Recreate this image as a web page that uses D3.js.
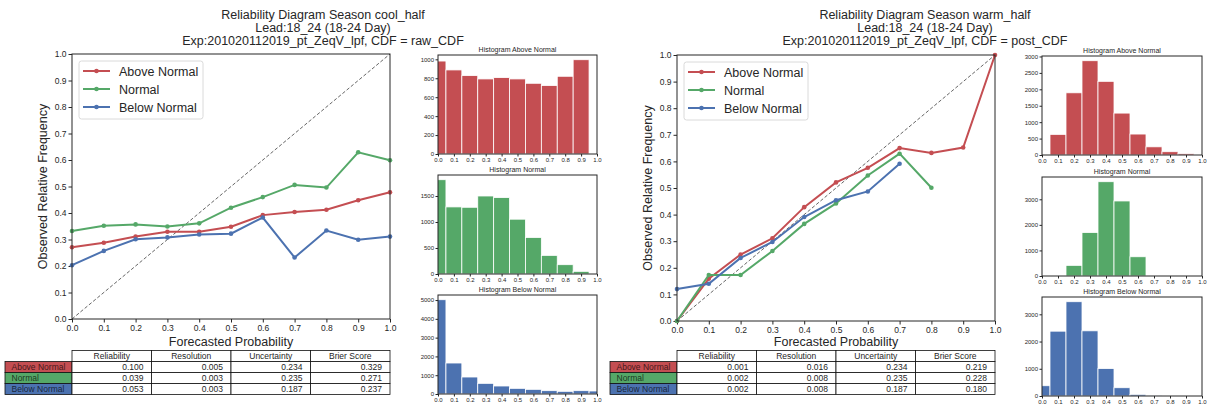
<!DOCTYPE html>
<html lang="en">
<head>
<meta charset="UTF-8">
<title>Reliability Diagrams</title>
<style>
  body { margin: 0; background: #fff; font-family: 'Liberation Sans', Arial, sans-serif; }
  svg text { fill: #262626; }
  .frame { fill: none; stroke: #262626; stroke-width: 1; }
</style>
</head>
<body>
<svg id="fig" width="1213" height="410"></svg>
<script src="https://d3js.org/d3.v7.min.js"></script>
<script>
// categories + colours (seaborn deep)
const categories = ['Above Normal', 'Normal', 'Below Normal'];
const catColors = ['#C44E52', '#55A868', '#4C72B0'];
const probBins = [0.0, 0.1, 0.2, 0.3, 0.4, 0.5, 0.6, 0.7, 0.8, 0.9, 1.0];

// cool_half reliability curves
const coolAbove  = [0.271, 0.288, 0.311, 0.329, 0.329, 0.348, 0.392, 0.404, 0.412, 0.448, 0.478];
const coolNormal = [0.332, 0.352, 0.357, 0.349, 0.361, 0.420, 0.460, 0.506, 0.496, 0.629, 0.599];
const coolBelow  = [0.203, 0.257, 0.301, 0.308, 0.319, 0.322, 0.383, 0.232, 0.334, 0.299, 0.311];

// warm_half reliability curves
const warmAbove  = [0.0, 0.159, 0.250, 0.311, 0.428, 0.521, 0.576, 0.650, 0.632, 0.652, 1.0];
const warmNormal = [0.0, 0.173, 0.173, 0.263, 0.365, 0.442, 0.547, 0.629, 0.501];
const warmBelow  = [0.120, 0.140, 0.237, 0.297, 0.391, 0.454, 0.487, 0.591];

// histogram counts per probability bin
const coolHistAbove  = [982, 888, 828, 793, 807, 793, 747, 723, 821, 996, 0];
const coolHistNormal = [1813, 1290, 1283, 1500, 1469, 1054, 702, 358, 179, 51, 0];
const coolHistBelow  = [5018, 1649, 904, 567, 426, 301, 248, 177, 142, 177, 160];
const warmHistAbove  = [0, 628, 1894, 2871, 2243, 1276, 638, 249, 100, 40, 0];
const warmHistNormal = [0, 0, 416, 1701, 3688, 2935, 753, 0, 0, 0, 0];
const warmHistBelow  = [377, 2381, 3463, 2394, 1008, 304, 61, 5, 0, 0, 0];

// score table
const scoreNames = ['Reliability', 'Resolution', 'Uncertainty', 'Brier Score'];
const coolScores = [[0.100, 0.005, 0.234, 0.329], [0.039, 0.003, 0.235, 0.271], [0.053, 0.003, 0.187, 0.237]];
const warmScores = [[0.001, 0.016, 0.234, 0.219], [0.002, 0.008, 0.235, 0.228], [0.002, 0.008, 0.187, 0.180]];

const panels = [
  {
    title: ['Reliability Diagram Season cool_half', 'Lead:18_24 (18-24 Day)', 'Exp:201020112019_pt_ZeqV_lpf, CDF = raw_CDF'],
    titleX: 323,
    main: { x0: 72, x1: 390, y0: 54, y1: 319 },
    hist: { x0: 438, x1: 597, tops: [55, 175, 295], h: 99 },
    tableX: 5,
    series: [coolAbove, coolNormal, coolBelow],
    hists: [coolHistAbove, coolHistNormal, coolHistBelow],
    hStep: [200, 500, 1000],
    scores: coolScores
  },
  {
    title: ['Reliability Diagram Season warm_half', 'Lead:18_24 (18-24 Day)', 'Exp:201020112019_pt_ZeqV_lpf, CDF = post_CDF'],
    titleX: 925,
    main: { x0: 677, x1: 995, y0: 55, y1: 321 },
    hist: { x0: 1042, x1: 1202, tops: [56, 177, 297], h: 99 },
    tableX: 610,
    series: [warmAbove, warmNormal, warmBelow],
    hists: [warmHistAbove, warmHistNormal, warmHistBelow],
    hStep: [500, 1000, 1000],
    scores: warmScores
  }
];

const svg = d3.select('#fig');

function styleAxis(sel, fs) {
  sel.select('.domain').remove();
  sel.selectAll('.tick line').attr('stroke', '#262626');
  sel.selectAll('.tick text').style('font-size', fs + 'px').attr('fill', '#262626');
}

function drawPanel(p, pi) {
  const g = svg.append('g');

  // titles
  p.title.forEach((t, i) => {
    g.append('text').attr('x', p.titleX).attr('y', 19 + i * 13)
      .attr('text-anchor', 'middle').style('font-size', '12.5px').text(t);
  });

  // main reliability axes
  const m = p.main;
  const x = d3.scaleLinear().domain([0, 1]).range([m.x0, m.x1]);
  const y = d3.scaleLinear().domain([0, 1]).range([m.y1, m.y0]);

  g.append('g').attr('transform', `translate(0,${m.y1})`)
    .call(d3.axisBottom(x).tickValues(probBins).tickFormat(d3.format('.1f')).tickSize(3.5).tickPadding(2))
    .call(s => styleAxis(s, 8.5));
  g.append('g').attr('transform', `translate(${m.x0},0)`)
    .call(d3.axisLeft(y).tickValues(probBins).tickFormat(d3.format('.1f')).tickSize(3.5).tickPadding(2))
    .call(s => styleAxis(s, 8.5));

  // perfect reliability diagonal
  g.append('line')
    .attr('x1', x(0)).attr('y1', y(0)).attr('x2', x(1)).attr('y2', y(1))
    .attr('stroke', '#555').attr('stroke-width', 0.9).attr('stroke-dasharray', '3.5,2');

  const line = d3.line().x((d, i) => x(probBins[i])).y(d => y(d));
  p.series.forEach((s, k) => {
    g.append('path').datum(s).attr('d', line)
      .attr('fill', 'none').attr('stroke', catColors[k]).attr('stroke-width', 2);
    g.selectAll(null).data(s).join('circle')
      .attr('cx', (d, i) => x(probBins[i])).attr('cy', d => y(d))
      .attr('r', 2.3).attr('fill', catColors[k]);
  });

  g.append('rect').attr('class', 'frame')
    .attr('x', m.x0).attr('y', m.y0).attr('width', m.x1 - m.x0).attr('height', m.y1 - m.y0);

  // axis labels
  g.append('text').attr('x', (m.x0 + m.x1) / 2).attr('y', 346).attr('text-anchor', 'middle')
    .style('font-size', '12.5px').text('Forecasted Probability');
  g.append('text').attr('transform', `translate(${m.x0 - 25},${(m.y0 + m.y1) / 2}) rotate(-90)`)
    .attr('text-anchor', 'middle').style('font-size', '12.5px').text('Observed Relative Frequency');

  // legend
  const lg = g.append('g').attr('transform', `translate(${m.x0 + 7},${m.y0 + 7})`);
  lg.append('rect').attr('width', 124).attr('height', 58).attr('rx', 2.5)
    .attr('fill', '#fff').attr('stroke', '#d0d0d0').attr('stroke-width', 0.8);
  categories.forEach((c, k) => {
    const ly = 10 + k * 18;
    lg.append('line').attr('x1', 4).attr('x2', 31).attr('y1', ly).attr('y2', ly)
      .attr('stroke', catColors[k]).attr('stroke-width', 2);
    lg.append('circle').attr('cx', 17.5).attr('cy', ly).attr('r', 2.3).attr('fill', catColors[k]);
    lg.append('text').attr('x', 40).attr('y', ly + 4.5).style('font-size', '12.5px').text(c);
  });

  // histograms
  const h = p.hist;
  p.hists.forEach((counts, k) => {
    const top = h.tops[k], bot = top + h.h;
    const hx = d3.scaleLinear().domain([0, 1]).range([h.x0, h.x1]);
    const hy = d3.scaleLinear().domain([0, d3.max(counts) * 1.05]).range([bot, top]);
    const clipId = `clip-${pi}-${k}`;
    g.append('clipPath').attr('id', clipId).append('rect')
      .attr('x', h.x0).attr('y', top).attr('width', h.x1 - h.x0).attr('height', h.h);

    g.append('g').attr('clip-path', `url(#${clipId})`)
      .selectAll('rect').data(counts).join('rect')
      .attr('x', (d, i) => hx(probBins[i] - 0.05))
      .attr('width', hx(0.1) - hx(0))
      .attr('y', d => hy(d)).attr('height', d => bot - hy(d))
      .attr('fill', catColors[k]).attr('stroke', '#fff').attr('stroke-width', 0.8);

    g.append('g').attr('transform', `translate(0,${bot})`)
      .call(d3.axisBottom(hx).tickValues(probBins).tickFormat(d3.format('.1f')).tickSize(2.5).tickPadding(1.5))
      .call(s => styleAxis(s, 6));
    g.append('g').attr('transform', `translate(${h.x0},0)`)
      .call(d3.axisLeft(hy).tickValues(d3.range(0, hy.domain()[1], p.hStep[k])).tickFormat(d3.format('d')).tickSize(2.5).tickPadding(1.5))
      .call(s => styleAxis(s, 6));

    g.append('rect').attr('class', 'frame')
      .attr('x', h.x0).attr('y', top).attr('width', h.x1 - h.x0).attr('height', h.h);
    g.append('text').attr('x', (h.x0 + h.x1) / 2).attr('y', top - 3).attr('text-anchor', 'middle')
      .style('font-size', '7px').text('Histogram ' + categories[k]);
  });

  // score table
  const tx = d3.scaleBand().domain(scoreNames).range([m.x0, m.x1]);
  const rowH = 11, ty0 = 350.5;
  const tg = g.append('g').style('font-size', '8.5px');
  scoreNames.forEach(name => {
    tg.append('rect').attr('x', tx(name)).attr('y', ty0).attr('width', tx.bandwidth()).attr('height', rowH)
      .attr('fill', '#fff').attr('stroke', '#111').attr('stroke-width', 0.8);
    tg.append('text').attr('x', tx(name) + tx.bandwidth() / 2).attr('y', ty0 + 8.3)
      .attr('text-anchor', 'middle').text(name);
  });
  p.scores.forEach((row, r) => {
    const ry = ty0 + rowH * (r + 1);
    tg.append('rect').attr('x', p.tableX).attr('y', ry).attr('width', m.x0 - p.tableX).attr('height', rowH)
      .attr('fill', catColors[r]).attr('stroke', '#111').attr('stroke-width', 0.8);
    tg.append('text').attr('x', p.tableX + 6.5).attr('y', ry + 8.3)
      .attr('fill', 'rgba(0,0,0,0.7)').style('fill', 'rgba(0,0,0,0.7)').text(categories[r]);
    row.forEach((v, c) => {
      const cx = tx(scoreNames[c]);
      tg.append('rect').attr('x', cx).attr('y', ry).attr('width', tx.bandwidth()).attr('height', rowH)
        .attr('fill', '#fff').attr('stroke', '#111').attr('stroke-width', 0.8);
      tg.append('text').attr('x', cx + tx.bandwidth() - 8).attr('y', ry + 8.3)
        .attr('text-anchor', 'end').text(d3.format('.3f')(v));
    });
  });
}

panels.forEach(drawPanel);
</script>
</body>
</html>
